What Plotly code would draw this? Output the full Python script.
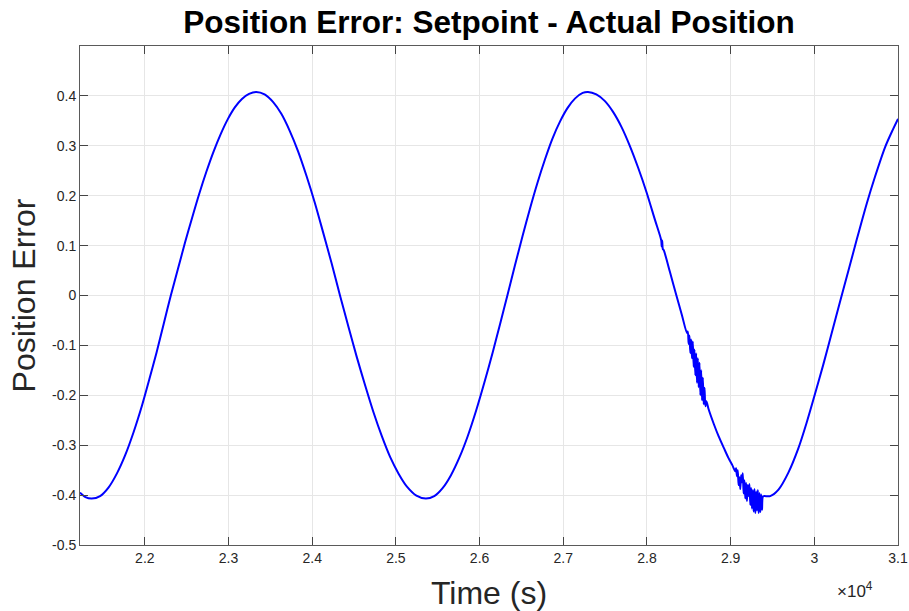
import plotly.graph_objects as go

# Time (s) and position error
time_s = [
    # first rise
    21225, 21290, 21365, 21465, 21565, 21665, 21765, 21865, 21965, 22055,
    22140, 22225, 22310, 22395, 22480, 22565, 22650, 22735, 22820, 22905,
    22990, 23075, 23160, 23245, 23331,
    # fall
    23431, 23531, 23631, 23731, 23831, 23931, 24031, 24131, 24231, 24332,
    24432, 24532, 24632, 24732, 24832, 24932, 25032, 25132, 25245, 25358,
    # rise
    25458, 25558, 25658, 25758, 25858, 25958, 26058, 26158, 26245, 26332,
    26422, 26512, 26602, 26692, 26782, 26872, 26962, 27052, 27142, 27232,
    27295,
    # fall with disturbances
    27395, 27495, 27595, 27695, 27795, 27895, 27995, 28095, 28170, 28176,
    28182, 28190, 28200, 28275, 28352, 28419, 28478,
    28488, 28498, 28508, 28518, 28528, 28538, 28548, 28558, 28568, 28578,
    28588, 28598, 28608, 28618, 28628, 28638, 28648, 28658, 28668, 28678,
    28688, 28698, 28710,
    28737, 28800, 28856, 28920, 28975, 29020, 29055,
    29065, 29075, 29085, 29095, 29105, 29115, 29125, 29135, 29145, 29155,
    29165, 29175, 29185, 29195, 29205, 29215, 29225, 29235, 29245, 29255,
    29265, 29275, 29285, 29295, 29305, 29315, 29325, 29335, 29345, 29355,
    29365, 29375, 29385, 29400, 29473,
    # final rise
    29572, 29690, 29810, 29908, 30000, 30108, 30208, 30308, 30408, 30507,
    30626, 30725, 30845, 30940, 31000,
]
position_error = [
    -0.395, -0.404, -0.407, -0.402, -0.385, -0.357, -0.320, -0.274, -0.221, -0.167,
    -0.114, -0.057, 0.000, 0.053, 0.106, 0.156, 0.204, 0.248, 0.288, 0.323,
    0.353, 0.377, 0.394, 0.404, 0.408,
    0.403, 0.388, 0.364, 0.330, 0.289, 0.240, 0.186, 0.126, 0.065, 0.000,
    -0.062, -0.123, -0.180, -0.234, -0.282, -0.324, -0.357, -0.383, -0.401, -0.407,
    -0.402, -0.386, -0.360, -0.325, -0.282, -0.231, -0.174, -0.113, -0.057, 0.000,
    0.060, 0.118, 0.174, 0.226, 0.273, 0.315, 0.349, 0.376, 0.395, 0.406,
    0.408,
    0.403, 0.390, 0.368, 0.338, 0.300, 0.256, 0.207, 0.152, 0.111, 0.098,
    0.110, 0.093, 0.091, 0.047, 0.000, -0.040, -0.075,
    -0.072, -0.097, -0.080, -0.115, -0.088, -0.126, -0.092, -0.143, -0.108, -0.160,
    -0.116, -0.175, -0.126, -0.184, -0.135, -0.200, -0.150, -0.210, -0.165, -0.218,
    -0.185, -0.222, -0.212,
    -0.228, -0.258, -0.282, -0.306, -0.326, -0.340, -0.352,
    -0.346, -0.362, -0.350, -0.380, -0.364, -0.388, -0.360, -0.374, -0.356, -0.397,
    -0.370, -0.407, -0.376, -0.412, -0.380, -0.402, -0.378, -0.420, -0.386, -0.427,
    -0.390, -0.433, -0.388, -0.436, -0.393, -0.431, -0.390, -0.436, -0.396, -0.434,
    -0.399, -0.430, -0.403, -0.402, -0.402,
    -0.389, -0.355, -0.306, -0.255, -0.202, -0.138, -0.075, -0.012, 0.050, 0.112,
    0.184, 0.238, 0.297, 0.333, 0.354,
]

x_tick_vals = [22000, 23000, 24000, 25000, 26000, 27000, 28000, 29000, 30000, 31000]
x_tick_text = ["2.2", "2.3", "2.4", "2.5", "2.6", "2.7", "2.8", "2.9", "3", "3.1"]
y_tick_vals = [-0.5, -0.4, -0.3, -0.2, -0.1, 0, 0.1, 0.2, 0.3, 0.4]
y_tick_text = ["-0.5", "-0.4", "-0.3", "-0.2", "-0.1", "0", "0.1", "0.2", "0.3", "0.4"]

FONT = "Liberation Sans, Arial, sans-serif"
AX = "#262626"

fig = go.Figure()
fig.add_trace(go.Scatter(
    x=time_s, y=position_error, mode="lines",
    line=dict(color="#0000ff", width=2, shape="spline", smoothing=0.8),
    showlegend=False,
))

axis_common = dict(
    showline=True, linecolor="#5a5a5a", linewidth=1, mirror="ticks",
    ticks="inside", ticklen=8, tickcolor="#444444", tickwidth=1,
    showgrid=True, gridcolor="#e6e6e6", gridwidth=1, zeroline=False,
    tickfont=dict(family=FONT, size=14, color=AX),
    automargin=False,
)

fig.update_layout(
    width=909, height=611,
    margin=dict(l=80, r=11, t=46, b=66),
    paper_bgcolor="white", plot_bgcolor="white",
    title=dict(text="<b>Position Error: Setpoint - Actual Position</b>",
               font=dict(family=FONT, size=31.5, color="#000000"),
               x=0.5, xanchor="center", xref="paper",
               y=1 - 22 / 611, yanchor="middle"),
    xaxis=dict(range=[21225, 31000], tickvals=x_tick_vals, ticktext=x_tick_text,
               title=dict(text="Time (s)", font=dict(family=FONT, size=32, color=AX),
                          standoff=17),
               **axis_common),
    yaxis=dict(range=[-0.5, 0.5], tickvals=y_tick_vals, ticktext=y_tick_text,
               title=dict(text="Position Error", font=dict(family=FONT, size=32, color=AX),
                          standoff=6),
               **axis_common),
    annotations=[dict(text="×10<sup>4</sup>", xref="paper", yref="paper",
                      x=0.972, y=-0.09, xanchor="right", yanchor="middle",
                      showarrow=False, font=dict(family=FONT, size=17, color=AX))],
)

fig.write_html("out.html")
